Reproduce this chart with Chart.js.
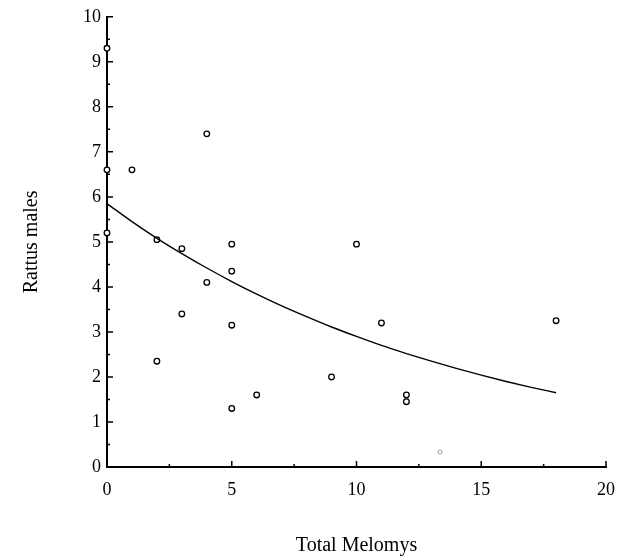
<!DOCTYPE html>
<html>
<head>
<meta charset="utf-8">
<script src="https://cdn.jsdelivr.net/npm/chart.js@4"></script>
<style>
  html, body { margin: 0; padding: 0; background: #fff; }
  #wrap { width: 618px; height: 560px; }
</style>
</head>
<body>
<div id="wrap"><canvas id="chart" width="618" height="560"></canvas></div>
<script>
// observed points (Total Melomys vs Rattus males)
const melomys = [0, 0, 0, 1, 4, 2, 3, 5, 4, 5, 3, 5, 2, 5, 6, 9, 10, 11, 12, 12, 18];
const rattus = [9.3, 6.6, 5.2, 6.6, 7.4, 5.05, 4.85, 4.95, 4.1, 4.35, 3.4, 3.15, 2.35, 1.3, 1.6, 2.0, 4.95, 3.2, 1.6, 1.45, 3.25];

// faint, poorly printed point near the x axis
const faintX = [13.35];
const faintY = [0.33];

// fitted curve
const fitX = [0, 1, 2, 3, 4, 5, 6, 7, 8, 9, 10, 11, 12, 13, 14, 15, 16, 17, 18];
const fitY = [5.85, 5.45, 5.08, 4.74, 4.42, 4.12, 3.84, 3.58, 3.34, 3.11, 2.9, 2.7, 2.52, 2.35, 2.19, 2.04, 1.9, 1.77, 1.65];

// tick positions
const xMajor = [0, 5, 10, 15, 20];
const xMinor = [2.5, 7.5, 12.5, 17.5];
const yMajor = [0, 1, 2, 3, 4, 5, 6, 7, 8, 9, 10];
const yMinor = [0.5, 1.5, 2.5, 3.5, 4.5, 5.5, 6.5, 7.5, 8.5, 9.5];

const serif = "'Liberation Serif', 'DejaVu Serif', serif";

function toPoints(xs, ys) {
    return xs.map((x, i) => ({ x: x, y: ys[i] }));
}

// ticks point inward, like the original
const inwardTicks = {
    id: 'inwardTicks',
    afterDatasetsDraw(chart) {
        const ctx = chart.ctx;
        const xs = chart.scales.x;
        const ys = chart.scales.y;
        const bottom = chart.chartArea.bottom;
        const left = chart.chartArea.left;
        ctx.save();
        ctx.strokeStyle = '#000';
        ctx.lineWidth = 1.5;
        ctx.beginPath();
        xMajor.forEach(v => {
            const px = xs.getPixelForValue(v);
            ctx.moveTo(px, bottom);
            ctx.lineTo(px, bottom - 6);
        });
        xMinor.forEach(v => {
            const px = xs.getPixelForValue(v);
            ctx.moveTo(px, bottom);
            ctx.lineTo(px, bottom - 3);
        });
        yMajor.forEach(v => {
            const py = ys.getPixelForValue(v);
            ctx.moveTo(left, py);
            ctx.lineTo(left + 6, py);
        });
        yMinor.forEach(v => {
            const py = ys.getPixelForValue(v);
            ctx.moveTo(left, py);
            ctx.lineTo(left + 3, py);
        });
        ctx.stroke();
        ctx.restore();
    }
};

new Chart(document.getElementById('chart').getContext('2d'), {
    type: 'scatter',
    data: {
        datasets: [
            {
                label: 'Fit',
                type: 'line',
                data: toPoints(fitX, fitY),
                borderColor: '#000',
                borderWidth: 1.4,
                pointRadius: 0,
                cubicInterpolationMode: 'monotone',
                fill: false,
                clip: false
            },
            {
                label: 'Rattus males',
                data: toPoints(melomys, rattus),
                pointStyle: 'circle',
                pointRadius: 2.8,
                pointBorderWidth: 1.3,
                pointBorderColor: '#000',
                pointBackgroundColor: '#fff',
                clip: false
            },
            {
                label: 'faint',
                data: toPoints(faintX, faintY),
                pointRadius: 2,
                pointBorderWidth: 1,
                pointBorderColor: '#999',
                pointBackgroundColor: '#fff',
                clip: false
            }
        ]
    },
    options: {
        responsive: false,
        animation: false,
        layout: { padding: { left: 16, right: 12, top: 14, bottom: 0 } },
        plugins: {
            legend: { display: false },
            tooltip: { enabled: false }
        },
        scales: {
            x: {
                type: 'linear',
                min: 0,
                max: 20,
                ticks: {
                    stepSize: 5,
                    color: '#000',
                    padding: 12,
                    maxRotation: 0,
                    font: { family: serif, size: 18 }
                },
                grid: { display: false, drawTicks: false },
                border: { display: true, color: '#000', width: 2 },
                title: {
                    display: true,
                    text: 'Total Melomys',
                    color: '#000',
                    padding: { top: 16, bottom: 2 },
                    font: { family: serif, size: 20 }
                },
                afterFit(scale) {
                    scale.height = 93;
                    scale.paddingLeft = 0;
                    scale.paddingRight = 0;
                }
            },
            y: {
                type: 'linear',
                min: 0,
                max: 10,
                ticks: {
                    stepSize: 1,
                    color: '#000',
                    padding: 6,
                    font: { family: serif, size: 18 }
                },
                grid: { display: false, drawTicks: false },
                border: { display: true, color: '#000', width: 2 },
                title: {
                    display: true,
                    text: 'Rattus males',
                    color: '#000',
                    padding: { top: 4, bottom: 4 },
                    font: { family: serif, size: 20 }
                },
                afterFit(scale) { scale.width = 91; }
            }
        }
    },
    plugins: [inwardTicks]
});
</script>
</body>
</html>
